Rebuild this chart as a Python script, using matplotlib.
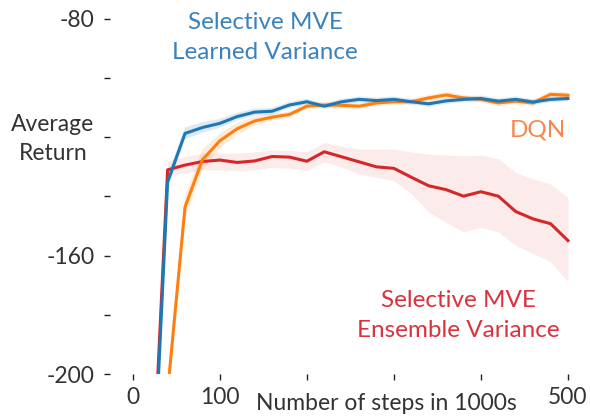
import matplotlib
matplotlib.use('Agg')
import matplotlib.pyplot as plt
import numpy as np

plt.rcParams['font.family'] = ['Lato', 'DejaVu Sans']

steps = [20, 40, 60, 80, 100, 120, 140, 160, 180, 200, 220, 240, 260, 280, 300,
         320, 340, 360, 380, 400, 420, 440, 460, 480, 500]

# Selective MVE, learned variance (blue)
mve_learned = [-260, -135.1, -118.7, -116.7, -115.3, -113.0, -111.5, -111.2, -109.1,
               -108.0, -109.5, -108.0, -107.2, -107.6, -107.2, -108.0, -108.7, -107.7,
               -107.2, -106.9, -107.8, -107.2, -108.1, -107.2, -106.9]
mve_learned_err = [3, 2.5, 2.0, 1.8, 1.5, 1.3, 1.2, 1.2, 1.0, 1.0, 1.0, 1.0, 1.0, 1.0,
                   1.0, 1.0, 1.0, 1.0, 1.0, 1.0, 1.0, 1.0, 1.0, 1.0, 1.0]

# DQN (orange)
dqn = [-300, -206, -143.6, -127.6, -121.2, -117.1, -114.5, -113.2, -112.3, -109.5,
       -109.1, -109.2, -109.5, -108.4, -108.0, -108.0, -106.7, -105.7, -106.7, -107.2,
       -108.4, -107.8, -108.4, -105.5, -105.8]
dqn_err = [4, 4, 4.0, 3.5, 2.5, 2.0, 1.5, 1.2, 1.0, 1.0, 1.0, 1.0, 1.0, 1.0, 1.0, 1.0,
           1.0, 1.0, 1.0, 1.0, 1.0, 1.0, 1.0, 1.0, 1.0]

# Selective MVE, ensemble variance (red)
mve_ensemble = [-254, -131.0, -129.4, -128.2, -127.7, -128.5, -128.0, -126.5, -126.7,
                -128.1, -124.9, -126.6, -128.3, -130.0, -130.5, -133.5, -136.4, -137.7,
                -139.9, -138.4, -139.9, -145.1, -147.6, -149.2, -154.9]
mve_ensemble_hi = [-250, -128.0, -126.5, -125.4, -125.4, -125.4, -124.9, -124.3, -124.5,
                   -124.9, -121.8, -123.0, -124.0, -124.0, -124.0, -125.0, -125.7, -126.0,
                   -126.3, -126.0, -127.2, -131.9, -134.1, -135.8, -140.3]
mve_ensemble_lo = [-258, -133.0, -132.0, -131.0, -131.0, -131.3, -131.0, -130.2, -130.5,
                   -131.3, -128.3, -130.0, -132.4, -133.5, -134.7, -139.0, -145.3, -148.7,
                   -152.0, -150.4, -152.0, -156.5, -159.3, -162.1, -168.8]

yticks = [-80, -100, -120, -140, -160, -180, -200]
ytick_labels = ['-80', '', '', '', '-160', '', '-200']
xticks = [0, 100, 200, 300, 400, 500]
xtick_labels = ['0', '100', '', '', '', '500']

fig = plt.figure(figsize=(5.9, 4.17), dpi=100)
ax = fig.add_axes([0.186, 0.103, 0.784, 0.873])

x = np.array(steps)
blue = '#1f77b4'
orange = '#ff7f0e'
red = '#d62728'

lo = np.array(mve_learned) - np.array(mve_learned_err)
hi = np.array(mve_learned) + np.array(mve_learned_err)
ax.fill_between(x, lo, hi, color=blue, alpha=0.15, lw=0)
lo = np.array(dqn) - np.array(dqn_err)
hi = np.array(dqn) + np.array(dqn_err)
ax.fill_between(x, lo, hi, color=orange, alpha=0.15, lw=0)
ax.fill_between(x, mve_ensemble_lo, mve_ensemble_hi, color=red, alpha=0.09, lw=0)

ax.plot(x, mve_ensemble, color=red, lw=2.2)
ax.plot(x, dqn, color=orange, lw=2.2)
ax.plot(x, mve_learned, color=blue, lw=2.2)

ax.set_xlim(-26.5, 505)
ax.set_ylim(-199.3, -77)

for s in ax.spines.values():
    s.set_visible(False)

ax.set_yticks(yticks)
ax.set_yticklabels(ytick_labels)
ax.set_xticks(xticks)
ax.set_xticklabels(xtick_labels)
ax.tick_params(axis='both', length=4, width=1, color='#222222', labelcolor='#333333',
               labelsize=16.5)
ax.tick_params(axis='y', pad=7)
ax.tick_params(axis='x', pad=5)

fig.text(53 / 590, 1 - 139 / 417, 'Average\nReturn', ha='center', va='center',
         fontsize=16.5, color='#333333', linespacing=1.45)
fig.text(386 / 590, 1 - 404 / 417, 'Number of steps in 1000s', ha='center',
         va='center', fontsize=16.5, color='#333333')

ax.text(152, -94.8, 'Selective MVE\nLearned Variance', ha='center', va='bottom',
        fontsize=17.5, color='#3b82bd', linespacing=1.5)
ax.text(498, -117.6, 'DQN', ha='right', va='center', fontsize=17.5, color='#f8864a')
ax.text(374, -188.7, 'Selective MVE\nEnsemble Variance', ha='center', va='bottom',
        fontsize=17.5, color='#d9333f', linespacing=1.5)

fig.savefig('out.png', dpi=100)
